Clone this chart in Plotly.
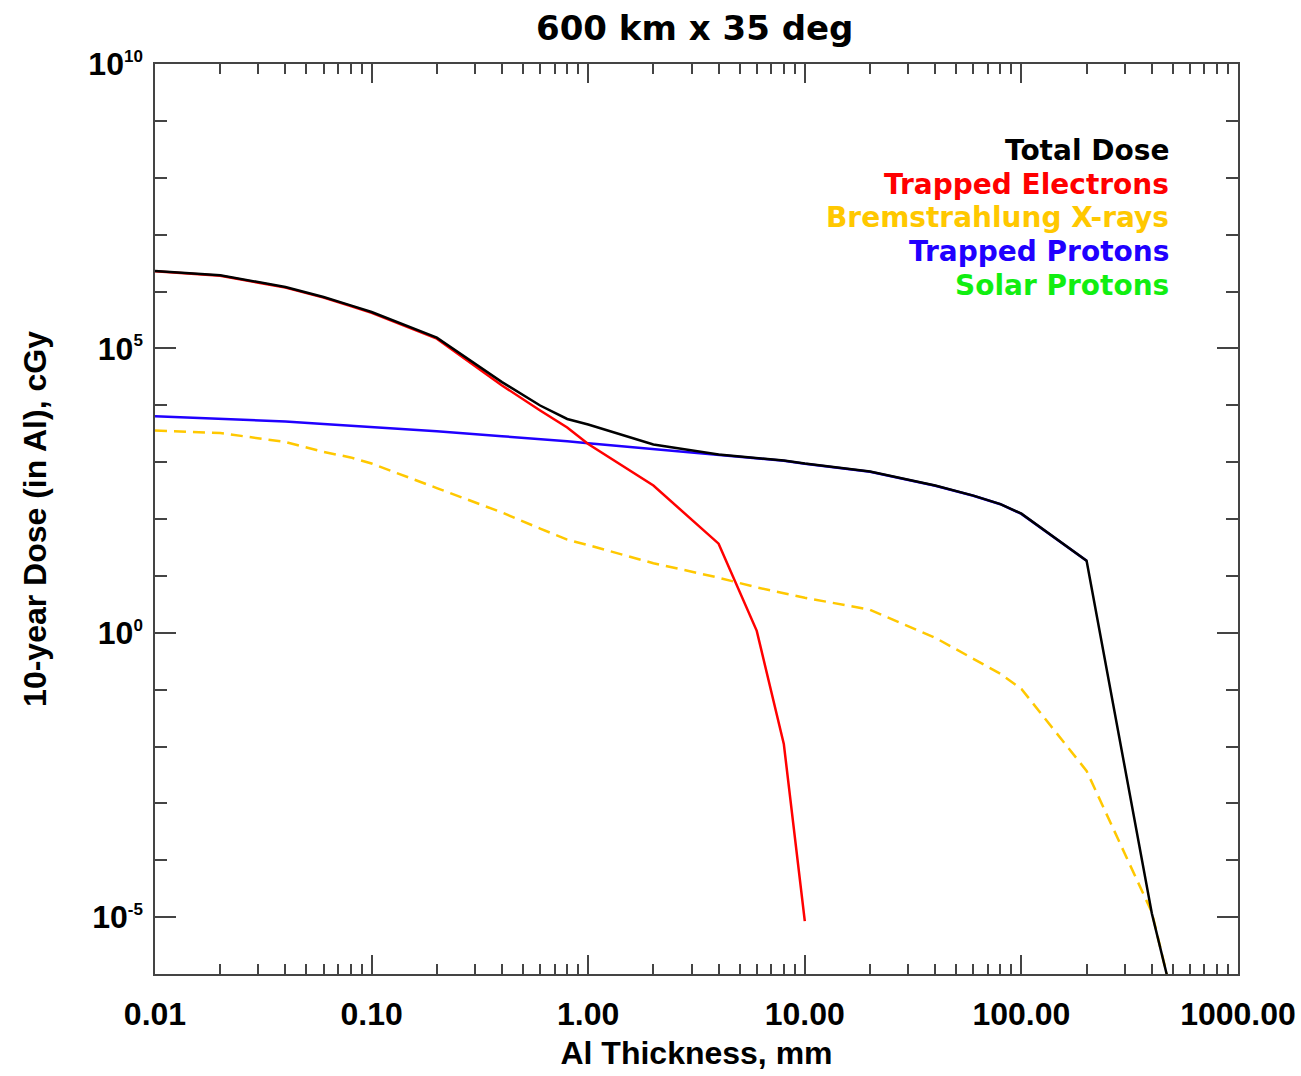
import plotly.graph_objects as go

# Al thickness, mm
thickness = [0.01, 0.02, 0.04, 0.06, 0.08, 0.1, 0.2, 0.4, 0.6, 0.8, 1, 2, 4, 6, 8, 10,
             20, 40, 60, 80, 100, 200, 400, 500]

total_dose = [2.30e6, 1.93e6, 1.20e6, 8.0e5, 5.71e5, 4.36e5, 1.54e5, 2.55e4, 9.9e3, 5.74e3,
              4.59e3, 2.04e3, 1.36e3, 1.18e3, 1.07e3, 944, 684, 387, 258, 183, 124, 18.5,
              1.17e-5, 3.6e-7]

trapped_electrons = [2.28e6, 1.90e6, 1.17e6, 7.8e5, 5.55e5, 4.22e5, 1.48e5, 2.23e4, 8.09e3,
                     4.06e3, 2.08e3, 387, 36.9, 1.08, 0.0111, 8.5e-6,
                     None, None, None, None, None, None, None, None]

bremsstrahlung = [3.60e3, 3.25e3, 2.26e3, 1.51e3, 1.21e3, 944, 350, 130, 67.8, 43.4, 34.7,
                  16.7, 9.29, 6.28, 4.95, 4.13, 2.54, 0.817, 0.348, 0.190, 0.103, 3.72e-3,
                  1.22e-5, 3.6e-7]

trapped_protons = [6.43e3, 5.78e3, 5.19e3, 4.68e3, 4.37e3, 4.12e3, 3.50e3, 2.86e3, 2.57e3,
                   2.33e3, 2.15e3, 1.71e3, 1.32e3, 1.17e3, 1.06e3, 935, 678, 385, 257, 182,
                   123, 18.4, None, None]

legend_names = ["Total Dose", "Trapped Electrons", "Bremstrahlung X-rays",
                "Trapped Protons", "Solar Protons"]
legend_colors = ["#000000", "#ff0000", "#ffc800", "#2000ff", "#11ee11"]

x_tickvals = [0.01, 0.1, 1, 10, 100, 1000]
x_ticktext = ["0.01", "0.10", "1.00", "10.00", "100.00", "1000.00"]
y_tickvals = [1e-5, 1, 1e5, 1e10]
y_exps = ["-5", "0", "5", "10"]

SUP = "<sup><span style='font-size:17px'>{}</span></sup>"
y_ticktext = ["10" + SUP.format(e) for e in y_exps]

x_minor = [m * 10 ** d for d in range(-2, 3) for m in range(2, 10)]
y_minor = [10.0 ** k for k in range(-6, 11)]

fig = go.Figure()
fig.add_trace(go.Scatter(x=thickness, y=trapped_protons, mode="lines",
                         line=dict(color="#2000ff", width=2.5), name="Trapped Protons"))
fig.add_trace(go.Scatter(x=thickness, y=bremsstrahlung, mode="lines",
                         line=dict(color="#ffc800", width=2.5, dash="12px,7px"),
                         name="Bremstrahlung X-rays"))
fig.add_trace(go.Scatter(x=thickness, y=trapped_electrons, mode="lines",
                         line=dict(color="#ff0000", width=2.5), name="Trapped Electrons"))
fig.add_trace(go.Scatter(x=thickness, y=total_dose, mode="lines",
                         line=dict(color="#000000", width=2.5), name="Total Dose"))

lab_font = dict(family="Liberation Sans, Arial, sans-serif", size=32, color="#000", weight="bold")

fig.update_xaxes(type="log", range=[-2, 3], tickvals=x_tickvals, ticktext=x_ticktext,
                 ticks="inside", ticklen=19, tickwidth=1.5, tickcolor="#444",
                 minor=dict(tickvals=x_minor, ticks="inside", ticklen=10, tickwidth=1.5,
                            tickcolor="#444", showgrid=False),
                 showline=True, linecolor="#444", linewidth=1.5, mirror="allticks",
                 showgrid=False, zeroline=False, tickfont=lab_font, ticklabelstandoff=11,
                 automargin=False,
                 title=dict(text="Al Thickness, mm", font=lab_font, standoff=10))
fig.update_yaxes(type="log", range=[-6, 10], tickvals=y_tickvals, ticktext=y_ticktext,
                 ticks="inside", ticklen=21, tickwidth=1.5, tickcolor="#444",
                 minor=dict(tickvals=y_minor, ticks="inside", ticklen=12, tickwidth=1.5,
                            tickcolor="#444", showgrid=False),
                 showline=True, linecolor="#444", linewidth=1.5, mirror="allticks",
                 showgrid=False, zeroline=False, tickfont=lab_font, ticklabelstandoff=4,
                 automargin=False,
                 title=dict(text="10-year Dose (in Al), cGy", font=lab_font, standoff=32))

leg_font_base = dict(family="DejaVu Sans, sans-serif", size=28, weight="bold")
for i, (name, col) in enumerate(zip(legend_names, legend_colors)):
    fig.add_annotation(xref="paper", yref="paper", x=0.9382, y=0.905 - i * 0.037,
                       xanchor="right", yanchor="middle", showarrow=False, text=name,
                       font=dict(color=col, **leg_font_base))

fig.update_layout(
    width=1301, height=1076,
    margin=dict(l=155, r=63, t=64, b=102),
    plot_bgcolor="white", paper_bgcolor="white",
    showlegend=False,
    title=dict(text="600 km x 35 deg", x=0.534, xanchor="center", yref="container",
               y=1 - 28.5 / 1076, yanchor="middle",
               font=dict(family="DejaVu Sans, sans-serif", size=34, color="#000", weight="bold")),
)

fig.write_html("out.html", config={"displayModeBar": False},
               post_script="document.body.style.margin='0px';")
